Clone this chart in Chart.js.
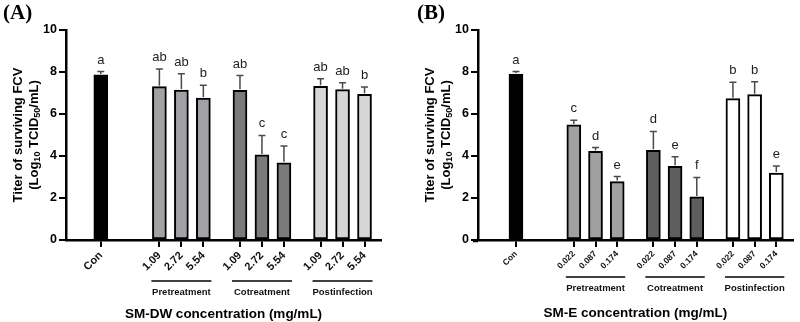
<!DOCTYPE html>
<html>
<head>
<meta charset="utf-8">
<script src="https://cdn.jsdelivr.net/npm/chart.js@4.4.1/dist/chart.umd.min.js"></script>
<style>
  html, body { margin: 0; padding: 0; background: #fff; }
  #wrap { position: relative; width: 800px; height: 322px; overflow: hidden; }
  canvas { position: absolute; top: 0; }
</style>
</head>
<body>
<div id="wrap">
  <canvas id="cA" width="400" height="322" style="left:0"></canvas>
  <canvas id="cB" width="400" height="322" style="left:400px"></canvas>
</div>
<script>
// ---------- DATA ----------
const groupNames = ['Pretreatment', 'Cotreatment', 'Postinfection'];
const controlLabel = 'Con';
const dosesA = ['1.09', '2.72', '5.54'];
const dosesB = ['0.022', '0.087', '0.174'];

// order: Con, Pre x3, Co x3, Post x3
const meanA = [7.86, 7.30, 7.14, 6.76, 7.13, 4.05, 3.68, 7.32, 7.16, 6.94];
const errA  = [0.16, 0.84, 0.78, 0.61, 0.70, 0.93, 0.80, 0.36, 0.33, 0.35];
const lettersA = ['a', 'ab', 'ab', 'b', 'ab', 'c', 'c', 'ab', 'ab', 'b'];

const meanB = [7.90, 5.48, 4.22, 2.78, 4.27, 3.51, 2.05, 6.73, 6.92, 3.19];
const errB  = [0.12, 0.22, 0.18, 0.24, 0.90, 0.46, 0.93, 0.78, 0.62, 0.33];
const lettersB = ['a', 'c', 'd', 'e', 'd', 'e', 'f', 'b', 'b', 'e'];

const yTicks = [0, 2, 4, 6, 8, 10];
const xTitleA = 'SM-DW concentration (mg/mL)';
const xTitleB = 'SM-E concentration (mg/mL)';

// ---------- STYLE ----------
const SANS = '"Liberation Sans", Arial, Helvetica, sans-serif';
const SERIF = '"Liberation Serif", "Times New Roman", serif';
const colorsA = ['#000000', '#a2a2a6', '#7a7a7a', '#d6d6d6'];
const colorsB = ['#000000', '#a0a0a0', '#5e5e5e', '#ffffff'];

// spacer slot layout (category slots used for spacing)
function buildSlots(lead, total, doses) {
  const labels = new Array(total).fill('');
  const idx = [];
  let p = lead;
  idx.push(p); labels[p] = controlLabel;
  p += 16;
  for (let g = 0; g < groupNames.length; g++) {
    for (let d = 0; d < doses.length; d++) {
      idx.push(p); labels[p] = doses[d];
      p += (d < doses.length - 1) ? 6 : 10;
    }
  }
  return { labels, idx };
}

function makePanel(canvasId, opt) {
  const slots = buildSlots(opt.lead, opt.total, opt.doses);
  const data = new Array(opt.total).fill(null);
  const bg = new Array(opt.total).fill('#fff');
  slots.idx.forEach((s, i) => {
    data[s] = opt.mean[i];
    bg[s] = opt.colors[i === 0 ? 0 : 1 + Math.floor((i - 1) / 3)];
  });

  const overlay = {
    id: 'overlay',
    afterDatasetsDraw(chart) {
      const ctx = chart.ctx, x = chart.scales.x, y = chart.scales.y;
      ctx.save();
      slots.idx.forEach((s, i) => {
        const cx = x.getPixelForValue(s);
        const top = y.getPixelForValue(opt.mean[i]);
        const cap = y.getPixelForValue(opt.mean[i] + opt.err[i]);
        ctx.strokeStyle = '#4a4a4a';
        ctx.lineWidth = 1.5;
        ctx.beginPath();
        ctx.moveTo(cx, top - 1);
        ctx.lineTo(cx, cap);
        ctx.moveTo(cx - 3.5, cap);
        ctx.lineTo(cx + 3.5, cap);
        ctx.stroke();
        ctx.fillStyle = '#222';
        ctx.font = '13px ' + SANS;
        ctx.textAlign = 'center';
        ctx.textBaseline = 'alphabetic';
        ctx.fillText(opt.letters[i], cx, cap - 8);
      });
      ctx.restore();
    },
    afterDraw(chart) {
      const ctx = chart.ctx, x = chart.scales.x, ca = chart.chartArea;
      ctx.save();
      // small extension of x axis line to the left of the y axis
      if (opt.axisExt > 0) {
        ctx.strokeStyle = '#000';
        ctx.lineWidth = 2.5;
        ctx.beginPath();
        ctx.moveTo(ca.left - opt.axisExt, ca.bottom + 1);
        ctx.lineTo(ca.left, ca.bottom + 1);
        ctx.stroke();
      }
      // group lines and names
      for (let g = 0; g < groupNames.length; g++) {
        const a = x.getPixelForValue(slots.idx[1 + g * 3]);
        const b = x.getPixelForValue(slots.idx[3 + g * 3]);
        ctx.strokeStyle = '#000';
        ctx.lineWidth = 1.5;
        ctx.beginPath();
        ctx.moveTo(a - 8, ca.bottom + opt.groupLineDy);
        ctx.lineTo(b + 8, ca.bottom + opt.groupLineDy);
        ctx.stroke();
        ctx.fillStyle = '#111';
        ctx.font = 'bold 9.5px ' + SANS;
        ctx.textAlign = 'center';
        ctx.textBaseline = 'alphabetic';
        ctx.fillText(groupNames[g], (a + b) / 2, ca.bottom + opt.groupLineDy + 14);
      }
      // x title
      ctx.fillStyle = '#000';
      ctx.font = 'bold 13.5px ' + SANS;
      ctx.textAlign = 'center';
      ctx.fillText(opt.xTitle, (ca.left + ca.right) / 2, opt.xTitleY);
      // y title (two lines, rotated)
      const midY = (ca.top + ca.bottom) / 2;
      ctx.save();
      ctx.translate(ca.left - 48, midY);
      ctx.rotate(-Math.PI / 2);
      ctx.font = 'bold 13px ' + SANS;
      ctx.textAlign = 'center';
      ctx.textBaseline = 'middle';
      ctx.fillText('Titer of surviving FCV', 0, 0);
      ctx.restore();
      ctx.save();
      ctx.translate(ca.left - 32, midY);
      ctx.rotate(-Math.PI / 2);
      ctx.textBaseline = 'middle';
      ctx.textAlign = 'left';
      const parts = [['(Log', false], ['10', true], [' TCID', false], ['50', true], ['/mL)', false]];
      const fMain = 'bold 13px ' + SANS, fSub = 'bold 9px ' + SANS;
      let w = 0;
      parts.forEach(p => { ctx.font = p[1] ? fSub : fMain; w += ctx.measureText(p[0]).width; });
      let px = -w / 2;
      parts.forEach(p => {
        ctx.font = p[1] ? fSub : fMain;
        ctx.fillText(p[0], px, p[1] ? 4 : 0);
        px += ctx.measureText(p[0]).width;
      });
      ctx.restore();
      // panel label
      ctx.font = 'bold 21px ' + SERIF;
      ctx.textAlign = 'left';
      ctx.textBaseline = 'alphabetic';
      ctx.fillStyle = '#000';
      ctx.fillText(opt.panel, opt.panelX, 19);
      ctx.restore();
    }
  };

  return new Chart(document.getElementById(canvasId), {
    type: 'bar',
    data: {
      labels: slots.labels,
      datasets: [{
        data: data,
        backgroundColor: bg,
        borderColor: '#000',
        borderWidth: 2,
        borderSkipped: false,
        barThickness: 14
      }]
    },
    options: {
      responsive: false,
      animation: false,
      events: [],
      layout: { padding: { top: 30, left: opt.padLeft, right: opt.padRight, bottom: 0 } },
      plugins: { legend: { display: false }, tooltip: { enabled: false } },
      scales: {
        x: {
          type: 'category',
          offset: true,
          grid: {
            offset: false,
            drawOnChartArea: false,
            drawTicks: true,
            tickLength: 7,
            lineWidth: 2,
            color: c => (slots.labels[c.index] ? '#000' : 'rgba(0,0,0,0)')
          },
          border: { display: true, color: '#000', width: 2.5 },
          ticks: {
            autoSkip: false,
            minRotation: 45,
            maxRotation: 45,
            padding: 2,
            color: '#111',
            font: { family: SANS, size: opt.xFont, weight: 'bold' }
          },
          afterFit(s) { s.height = 82; }
        },
        y: {
          min: 0,
          max: 10,
          afterBuildTicks(s) { s.ticks = yTicks.map(v => ({ value: v })); },
          grid: { drawOnChartArea: false, tickLength: 7, lineWidth: 2, color: '#000' },
          border: { display: true, color: '#000', width: 2.5 },
          ticks: { padding: 2, color: '#000', font: { family: SANS, size: 12.5, weight: 'bold' } },
          afterFit(s) { s.width = 36; }
        }
      }
    },
    plugins: [overlay]
  });
}

makePanel('cA', {
  lead: 9, total: 86, doses: dosesA, mean: meanA, err: errA, letters: lettersA,
  colors: colorsA, padLeft: 30, padRight: 19, xFont: 11, groupLineDy: 41,
  xTitle: xTitleA, xTitleY: 318, panel: '(A)', panelX: 3, axisExt: 0
});
makePanel('cB', {
  lead: 10, total: 87, doses: dosesB, mean: meanB, err: errB, letters: lettersB,
  colors: colorsB, padLeft: 42, padRight: 0, xFont: 8.5, groupLineDy: 37,
  xTitle: xTitleB, xTitleY: 317, panel: '(B)', panelX: 17, axisExt: 5
});
</script>
</body>
</html>
